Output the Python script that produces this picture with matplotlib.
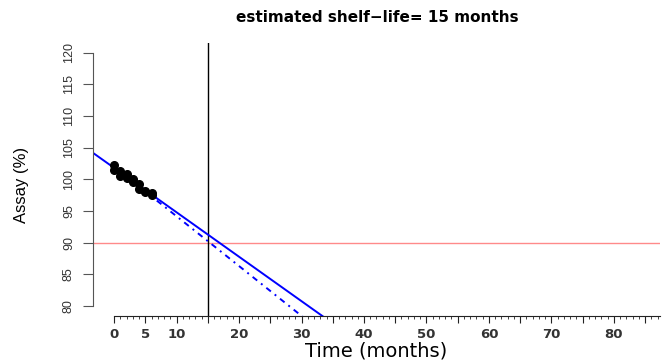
import numpy as np
import matplotlib
matplotlib.use("Agg")
import matplotlib.pyplot as plt
from matplotlib.ticker import FixedLocator

# stability data (two results per time point)
months = [0, 0, 1, 1, 2, 2, 3, 3, 4, 4, 5, 5, 6, 6]
assay = [102.2, 101.5, 101.3, 100.5, 100.8, 100.2, 100.1, 99.6,
         99.3, 98.5, 98.2, 98.0, 97.9, 97.5]
spec_limit = 90
shelf_life = 15
title_txt = "estimated shelf\u2212life= 15 months"

x_major = list(range(0, 90, 5))
x_minor = list(range(0, 88))
x_labels = ["0", "5", "10", "", "20", "", "30", "", "40", "", "50", "",
            "60", "", "70", "", "80", ""]
y_ticks = [80, 85, 90, 95, 100, 105, 110, 115, 120]

# regression + one-sided 95% lower bound
t = np.array(months, float)
y = np.array(assay, float)
slope, icpt = np.polyfit(t, y, 1)
n = len(t)
resid = y - (icpt + slope * t)
s = np.sqrt(np.sum(resid ** 2) / (n - 2))
sxx = np.sum((t - t.mean()) ** 2)
tq = 1.782  # t(0.95, 12)

tt = np.linspace(-4, 88, 400)
fit = icpt + slope * tt
tl = np.linspace(0, 88, 400)
lower = icpt + slope * tl - tq * s * np.sqrt(1 / n + (tl - t.mean()) ** 2 / sxx)

narrow = ["Liberation Sans", "DejaVu Sans"]

fig = plt.figure(figsize=(6.67, 3.6), dpi=100)
ax = fig.add_axes([93 / 667, 1 - 316 / 360, (660 - 93) / 667, (316 - 42.6) / 360])

ax.axhline(spec_limit, color="#ff8a8a", lw=1)
ax.axvline(shelf_life, color="black", lw=1)
ax.plot(tt, fit, color="blue", lw=1.4)
ax.plot(tl, lower, color="blue", lw=1.4, ls=(0, (3, 2.5, 1, 2.5)))
ax.plot(months, assay, "o", color="black", ms=5.5)

ax.set_xlim(-3.4, 87.4)
ax.set_ylim(78.4, 121.6)

for sp in ["top", "right"]:
    ax.spines[sp].set_visible(False)
ax.spines["left"].set_bounds(80, 120)
ax.spines["bottom"].set_bounds(0, 87.4)
ax.spines["left"].set_color("#555555")
ax.spines["bottom"].set_color("#222222")

ax.set_xticks(x_major)
ax.set_xticklabels(x_labels, fontsize=9.5, fontweight="bold", color="#333333")
ax.xaxis.set_minor_locator(FixedLocator(x_minor))
ax.tick_params(axis="x", which="major", length=5, width=0.8, pad=4, color="#222222")
ax.tick_params(axis="x", which="minor", length=2.5, width=0.6, color="#222222")

ax.set_yticks(y_ticks)
ax.set_yticklabels([str(v) for v in y_ticks], rotation=90, va="center",
                   fontsize=9, color="#333333", family=narrow)
ax.tick_params(axis="y", length=7, width=0.8, pad=6, color="#555555")

fig.text(376 / 667, 1 - 351 / 360, "Time (months)", ha="center", va="center",
         fontsize=14)
fig.text(22 / 667, 1 - 185 / 360, "Assay (%)", ha="center", va="center",
         rotation=90, fontsize=12, family=narrow)
fig.text(377 / 667, 1 - 18 / 360, title_txt, ha="center", va="center",
         fontsize=11, fontweight="bold")

fig.savefig("out.png", dpi=100)
